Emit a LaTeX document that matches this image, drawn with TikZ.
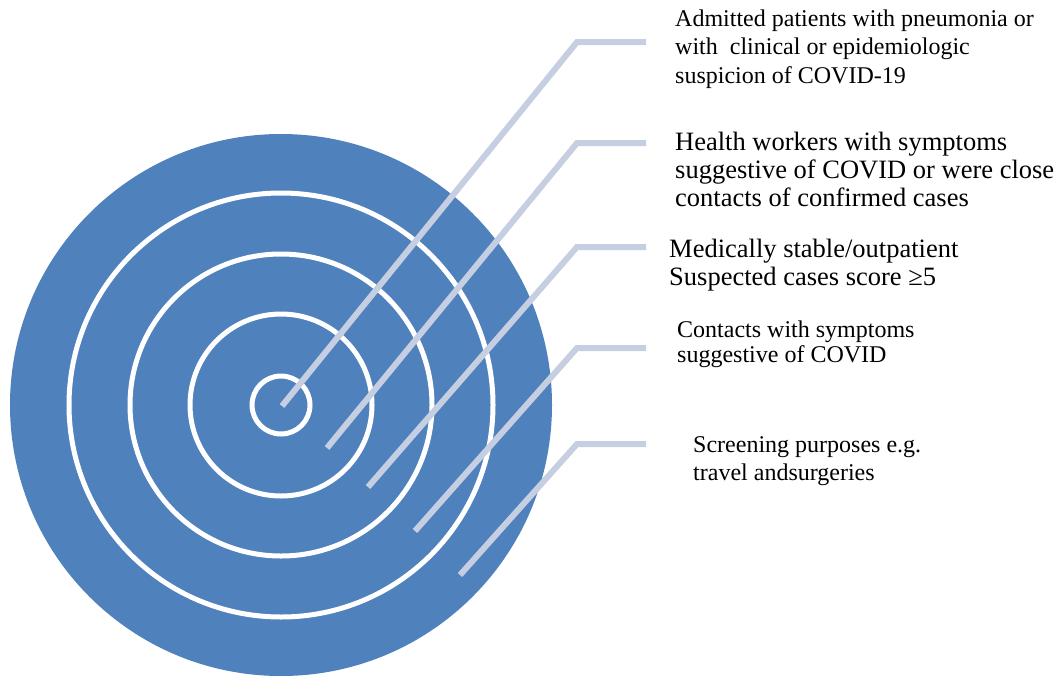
\documentclass[tikz,border=0pt]{standalone}
\usepackage{fontspec}
\setmainfont{Liberation Serif}
\definecolor{ringblue}{RGB}{79,129,189}
\definecolor{leader}{RGB}{198,207,226}
\tikzset{
  ringline/.style={draw=white,line width=5pt},
  leaderline/.style={draw=leader,line width=6pt},
  lbl/.style={anchor=base west,inner sep=0pt,align=left,text=black}
}
\begin{document}
\begin{tikzpicture}[x=1pt,y=-1pt]
\useasboundingbox (0,0) rectangle (1059,675);
\coordinate (c) at (281,405);
\fill[ringblue] (c) circle (271);
\draw[ringline] (c) circle (212);
\draw[ringline] (c) circle (151);
\draw[ringline] (c) circle (91);
\draw[ringline] (c) circle (29);
% leader endpoints
\coordinate (a1) at (282,406); \coordinate (b1) at (577,42);  \coordinate (e1) at (646,42);
\coordinate (a2) at (327,448); \coordinate (b2) at (577,143); \coordinate (e2) at (646,143);
\coordinate (a3) at (368,487); \coordinate (b3) at (577,247); \coordinate (e3) at (646,247);
\coordinate (a4) at (415,531); \coordinate (b4) at (577,348); \coordinate (e4) at (646,348);
\coordinate (a5) at (460,575); \coordinate (b5) at (577,444); \coordinate (e5) at (646,444);
\foreach \i in {1,...,5}{\draw[leaderline] (a\i) -- (b\i) -- (e\i);}
% labels (anchor = baseline of the last line)
\node[lbl,font=\fontsize{24}{28.5}\selectfont] (t1) at (675,83)
  {Admitted patients with pneumonia or\\with\ \ clinical or epidemiologic\\suspicion of COVID-19};
\node[lbl,font=\fontsize{26.5}{28}\selectfont] (t2) at (675,206)
  {Health workers with symptoms\\suggestive of COVID or were close\\contacts of confirmed cases};
\node[lbl,font=\fontsize{26.5}{28}\selectfont] (t3) at (669,285)
  {Medically stable/outpatient\\Suspected cases score ≥5};
\node[lbl,font=\fontsize{24}{25}\selectfont] (t4) at (677,362)
  {Contacts with symptoms\\suggestive of COVID};
\node[lbl,font=\fontsize{24}{28}\selectfont] (t5) at (693,480)
  {Screening purposes e.g.\\travel andsurgeries};
\end{tikzpicture}
\end{document}
